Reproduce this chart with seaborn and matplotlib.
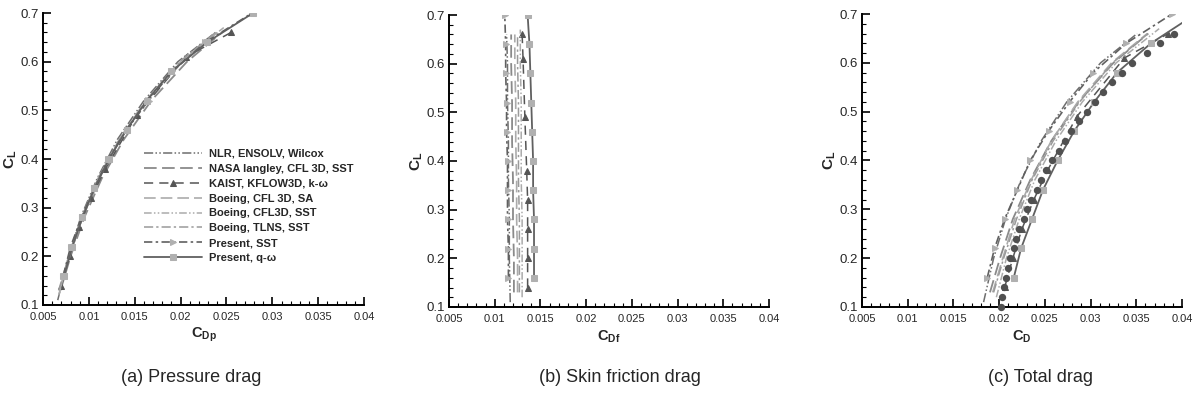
"""Lift versus pressure, skin friction and total drag for several CFD codes."""

import matplotlib

matplotlib.use("Agg")
import matplotlib.pyplot as plt
from matplotlib.ticker import MultipleLocator, FormatStrFormatter
import seaborn as sns

# ---- data -------------------------------------------------------------
names = [
    "NLR, ENSOLV, Wilcox",
    "NASA langley, CFL 3D, SST",
    "KAIST, KFLOW3D, k-\u03c9",
    "Boeing, CFL 3D, SA",
    "Boeing, CFL3D, SST",
    "Boeing, TLNS, SST",
    "Present, SST",
    "Present, q-\u03c9",
]

cl_nlr = [0.11, 0.20, 0.28, 0.36, 0.44, 0.52, 0.60, 0.66]
cdp_nlr = [0.0066, 0.0078, 0.0091, 0.0109, 0.0131, 0.0160, 0.0197, 0.0238]
cdf_nlr = [0.0117, 0.0116, 0.0116, 0.0115, 0.0115, 0.0114, 0.0114, 0.0113]
cd_nlr = [0.0183, 0.0194, 0.0207, 0.0224, 0.0246, 0.0274, 0.0311, 0.0351]

cl_nasa = [0.13, 0.20, 0.28, 0.36, 0.44, 0.52, 0.60, 0.66]
cdp_nasa = [0.0069, 0.0080, 0.0095, 0.0114, 0.0138, 0.0168, 0.0207, 0.0245]
cdf_nasa = [0.0121, 0.0121, 0.0120, 0.0120, 0.0119, 0.0119, 0.0118, 0.0118]
cd_nasa = [0.0190, 0.0201, 0.0215, 0.0234, 0.0257, 0.0287, 0.0325, 0.0363]

cl_kaist = [0.14, 0.20, 0.26, 0.32, 0.38, 0.49, 0.61, 0.66]
cdp_kaist = [0.0070, 0.0079, 0.0089, 0.0102, 0.0118, 0.0152, 0.0206, 0.0255]
cdf_kaist = [0.0136, 0.0136, 0.0136, 0.0136, 0.0135, 0.0133, 0.0131, 0.0130]
cd_kaist = [0.0206, 0.0215, 0.0225, 0.0238, 0.0253, 0.0285, 0.0337, 0.0385]

cl_sa = [0.13, 0.20, 0.28, 0.36, 0.44, 0.52, 0.60, 0.66]
cdp_sa = [0.0068, 0.0079, 0.0093, 0.0111, 0.0134, 0.0163, 0.0201, 0.0240]
cdf_sa = [0.0125, 0.0125, 0.0124, 0.0124, 0.0123, 0.0123, 0.0122, 0.0122]
cd_sa = [0.0193, 0.0204, 0.0217, 0.0235, 0.0257, 0.0286, 0.0323, 0.0362]

cl_bsst = [0.12, 0.20, 0.28, 0.36, 0.44, 0.52, 0.60, 0.67]
cdp_bsst = [0.0067, 0.0078, 0.0092, 0.0110, 0.0133, 0.0162, 0.0200, 0.0247]
cdf_bsst = [0.0130, 0.0130, 0.0130, 0.0129, 0.0129, 0.0129, 0.0128, 0.0128]
cd_bsst = [0.0197, 0.0208, 0.0222, 0.0239, 0.0262, 0.0291, 0.0328, 0.0375]

cl_tlns = [0.13, 0.20, 0.28, 0.36, 0.44, 0.52, 0.60, 0.66]
cdp_tlns = [0.0067, 0.0078, 0.0092, 0.0110, 0.0133, 0.0162, 0.0199, 0.0238]
cdf_tlns = [0.0127, 0.0127, 0.0127, 0.0126, 0.0126, 0.0126, 0.0125, 0.0125]
cd_tlns = [0.0194, 0.0205, 0.0219, 0.0236, 0.0259, 0.0288, 0.0324, 0.0363]

cl_present = [0.16, 0.22, 0.28, 0.34, 0.40, 0.46, 0.52, 0.58, 0.64, 0.70]
cdp_psst = [0.0072, 0.0080, 0.0092, 0.0106, 0.0121, 0.0141, 0.0165, 0.0191, 0.0227, 0.0278]
cdf_psst = [0.0115, 0.0115, 0.0114, 0.0114, 0.0114, 0.0113, 0.0113, 0.0112, 0.0112, 0.0111]
cd_psst = [0.0187, 0.0195, 0.0206, 0.0220, 0.0234, 0.0254, 0.0277, 0.0303, 0.0339, 0.0389]

cdp_qw = [0.0073, 0.0082, 0.0093, 0.0106, 0.0122, 0.0141, 0.0163, 0.0190, 0.0229, 0.0279]
cdf_qw = [0.0143, 0.0143, 0.0143, 0.0142, 0.0142, 0.0141, 0.0140, 0.0139, 0.0138, 0.0136]
cd_qw = [0.0216, 0.0224, 0.0236, 0.0248, 0.0264, 0.0282, 0.0304, 0.0329, 0.0366, 0.0415]

cl_exp = [0.10, 0.12, 0.14, 0.16, 0.18, 0.20, 0.22, 0.24, 0.26, 0.28, 0.30, 0.32,
          0.34, 0.36, 0.38, 0.40, 0.42, 0.44, 0.46, 0.48, 0.50, 0.52, 0.54, 0.56,
          0.58, 0.60, 0.62, 0.64, 0.66]
cd_exp = [0.0202, 0.0203, 0.0205, 0.0208, 0.0210, 0.0212, 0.0216, 0.0219, 0.0222,
          0.0227, 0.0230, 0.0235, 0.0241, 0.0246, 0.0251, 0.0258, 0.0265, 0.0272,
          0.0279, 0.0287, 0.0296, 0.0305, 0.0314, 0.0323, 0.0334, 0.0345, 0.0362,
          0.0376, 0.0391]

cl_all = [cl_nlr, cl_nasa, cl_kaist, cl_sa, cl_bsst, cl_tlns, cl_present, cl_present]
cdp_all = [cdp_nlr, cdp_nasa, cdp_kaist, cdp_sa, cdp_bsst, cdp_tlns, cdp_psst, cdp_qw]
cdf_all = [cdf_nlr, cdf_nasa, cdf_kaist, cdf_sa, cdf_bsst, cdf_tlns, cdf_psst, cdf_qw]
cd_all = [cd_nlr, cd_nasa, cd_kaist, cd_sa, cd_bsst, cd_tlns, cd_psst, cd_qw]

# ---- line styles (grayscale like the original) -------------------------
styles = [
    dict(color="#6e6e6e", linestyle=(0, (6, 1.5, 1, 1.5, 1, 1.5)), lw=1.1),
    dict(color="#8a8a8a", linestyle=(0, (7, 3)), lw=1.3),
    dict(color="#555555", linestyle=(0, (6, 4)), lw=1.1, marker="^",
         markersize=4, markerfacecolor="#555555", markeredgecolor="#555555"),
    dict(color="#ababab", linestyle=(0, (7, 3)), lw=1.2),
    dict(color="#ababab", linestyle=(0, (5, 1.5, 1, 1.5, 1, 1.5)), lw=1.1),
    dict(color="#9a9a9a", linestyle=(0, (6, 2, 1.5, 2)), lw=1.1),
    dict(color="#606060", linestyle=(0, (5, 2, 1.5, 2)), lw=1.2, marker=">",
         markersize=4.5, markerfacecolor="#b0b0b0", markeredgecolor="#b0b0b0"),
    dict(color="#606060", linestyle="-", lw=1.3, marker="s",
         markersize=4.5, markerfacecolor="#b0b0b0", markeredgecolor="#b0b0b0"),
]


def style_axes(ax, xlabel):
    ax.set_xlim(0.005, 0.04)
    ax.set_ylim(0.1, 0.7)
    ax.xaxis.set_major_locator(MultipleLocator(0.005))
    ax.xaxis.set_minor_locator(MultipleLocator(0.001))
    ax.yaxis.set_major_locator(MultipleLocator(0.1))
    ax.yaxis.set_minor_locator(MultipleLocator(0.02))
    ax.xaxis.set_major_formatter(FormatStrFormatter("%g"))
    ax.yaxis.set_major_formatter(FormatStrFormatter("%g"))
    for side in ("top", "right"):
        ax.spines[side].set_visible(False)
    for side in ("left", "bottom"):
        ax.spines[side].set_linewidth(1.4)
        ax.spines[side].set_color("black")
    ax.tick_params(which="both", bottom=True, left=True, top=False, right=False)
    ax.tick_params(which="major", direction="in", length=5.5, width=1.2, color="black")
    ax.tick_params(which="minor", direction="in", length=2.8, width=0.8, color="black")
    ax.tick_params(axis="y", labelsize=9.5, pad=3)
    ax.tick_params(axis="x", labelsize=8, pad=5)
    ax.set_xlabel(xlabel, fontsize=10.5, labelpad=3)
    ax.set_ylabel(r"$\mathbf{C_L}$", fontsize=11, labelpad=1)
    ax.grid(False)
    ax.set_facecolor("white")


def main() -> None:
    sns.set_theme(style="white")
    plt.rcParams["font.family"] = ["Liberation Sans", "DejaVu Sans"]
    plt.rcParams["mathtext.fontset"] = "custom"
    plt.rcParams["mathtext.rm"] = "Liberation Sans"
    plt.rcParams["mathtext.bf"] = "Liberation Sans:bold"

    fig = plt.figure(figsize=(11.96, 3.99), dpi=100)
    ax_a = fig.add_axes([0.0360, 0.2356, 0.2684, 0.7318])
    ax_b = fig.add_axes([0.3754, 0.2306, 0.2676, 0.7318])
    ax_c = fig.add_axes([0.7207, 0.2306, 0.2676, 0.7343])

    panels = [(ax_a, cdp_all, r"$\mathbf{C_{Dp}}$"),
              (ax_b, cdf_all, r"$\mathbf{C_{Df}}$"),
              (ax_c, cd_all, r"$\mathbf{C_D}$")]

    for ax, xs, xlabel in panels:
        for name, cl, x, st in zip(names, cl_all, xs, styles):
            sns.lineplot(x=x, y=cl, sort=False, estimator=None, ax=ax,
                         label=name, **st)
        if ax is ax_c:
            sns.scatterplot(x=cd_exp, y=cl_exp, ax=ax, color="#505050", s=28,
                            edgecolor="#505050", linewidth=0, zorder=5,
                            clip_on=False)
        style_axes(ax, xlabel)

    for ax in (ax_b, ax_c):
        if ax.get_legend() is not None:
            ax.get_legend().remove()

    handles, labels = ax_a.get_legend_handles_labels()
    ax_a.legend(handles, labels, loc="upper left", bbox_to_anchor=(0.3, 0.55),
                frameon=False, prop={"weight": "bold", "size": 8},
                handlelength=5.2, handletextpad=0.7, labelspacing=0.44,
                borderaxespad=0)

    caption_kw = dict(ha="center", va="center", fontsize=13)
    fig.text(0.160, 0.053, "(a) Pressure drag", **caption_kw)
    fig.text(0.518, 0.053, "(b) Skin friction drag", **caption_kw)
    fig.text(0.870, 0.053, "(c) Total drag", **caption_kw)

    fig.savefig("out.png", dpi=100, facecolor="white")


if __name__ == "__main__":
    main()
